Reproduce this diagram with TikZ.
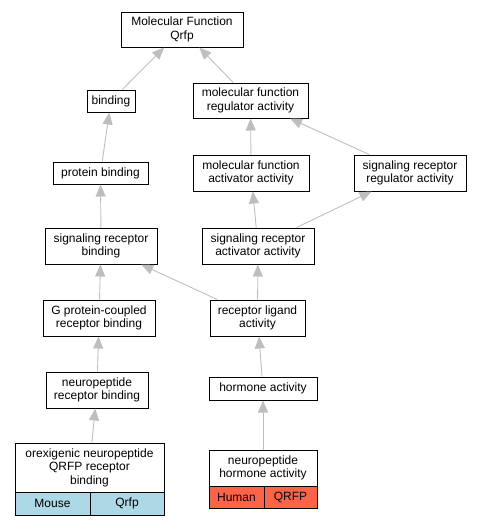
\documentclass[tikz,border=0pt]{standalone}
\usepackage{fontspec}
\setmainfont{Liberation Sans}
\usepackage{tikz}
\usetikzlibrary{arrows.meta,positioning}

\begin{document}
\begin{tikzpicture}[x=1pt, y=-1pt,
    term/.style={draw, line width=1pt, fill=white, align=center, inner sep=0pt,
        font=\fontsize{12}{13.5}\selectfont},
    mouse/.style={term, fill={rgb,255:red,173;green,216;blue,230}},
    human/.style={term, fill={rgb,255:red,255;green,99;blue,71}},
    isa/.style={draw={rgb,255:red,190;green,190;blue,190}, line width=0.9pt,
        -{Triangle[length=12pt, width=10pt]}}]
    \useasboundingbox (0,0) rectangle (483,525);

    % Upper terms
    \node[term, minimum width=122pt, minimum height=35pt] (mf) at (182,29.5) {Molecular Function\\Qrfp};
    \node[term, minimum width=48pt, minimum height=22pt] (bind) at (111,101) {binding};
    \node[term, minimum width=115pt, minimum height=35pt] (mfreg) at (250.5,100.5) {molecular function\\regulator activity};
    \node[term, minimum width=95pt, minimum height=22pt] (prot) at (100.5,173) {protein binding};
    \node[term, minimum width=116pt, minimum height=36pt] (mfact) at (251,173) {molecular function\\activator activity};
    \node[term, minimum width=112pt, minimum height=36pt] (srreg) at (410,173) {signaling receptor\\regulator activity};

    % Middle terms
    \node[term, minimum width=112pt, minimum height=36pt] (srbind) at (101,246) {signaling receptor\\binding};
    \node[term, minimum width=112pt, minimum height=36pt] (sract) at (258,246) {signaling receptor\\activator activity};
    \node[term, minimum width=112pt, minimum height=36pt] (gpcr) at (99,318) {G protein-coupled\\receptor binding};
    \node[term, minimum width=95pt, minimum height=36pt] (ligand) at (257.5,318) {receptor ligand\\activity};
    \node[term, minimum width=102pt, minimum height=36pt] (npbind) at (97,390) {neuropeptide\\receptor binding};
    \node[term, minimum width=108pt, minimum height=23pt] (hormone) at (263,388.5) {hormone activity};

    % Annotated terms
    \node[term, minimum width=149pt, minimum height=49pt] (orex) at (89.5,467.5) {orexigenic neuropeptide\\QRFP receptor\\binding};
    \node[mouse, minimum width=75pt, minimum height=23pt] (orexsp) at (52.5,503.5) {Mouse};
    \node[mouse, minimum width=74pt, minimum height=23pt] (orexgene) at (127,503.5) {Qrfp};
    \node[term, minimum width=108pt, minimum height=36pt] (nphorm) at (263,468) {neuropeptide\\hormone activity};
    \node[human, minimum width=55pt, minimum height=22pt] (nphormsp) at (236.5,497) {Human};
    \node[human, minimum width=53pt, minimum height=22pt] (nphormgene) at (290.5,497) {QRFP};

    % Edges
    \draw[isa] (bind) -- (mf);
    \draw[isa] (mfreg) -- (mf);
    \draw[isa] (prot) -- (bind);
    \draw[isa] (mfact) -- (mfreg);
    \draw[isa] (srreg) -- (mfreg);
    \draw[isa] (srbind) -- (prot);
    \draw[isa] (sract) -- (mfact);
    \draw[isa] (sract) -- (srreg);
    \draw[isa] (gpcr) -- (srbind);
    \draw[isa] (ligand) -- (srbind);
    \draw[isa] (ligand) -- (sract);
    \draw[isa] (npbind) -- (gpcr);
    \draw[isa] (hormone) -- (ligand);
    \draw[isa] (orex) -- (npbind);
    \draw[isa] (nphorm) -- (hormone);
\end{tikzpicture}
\end{document}
